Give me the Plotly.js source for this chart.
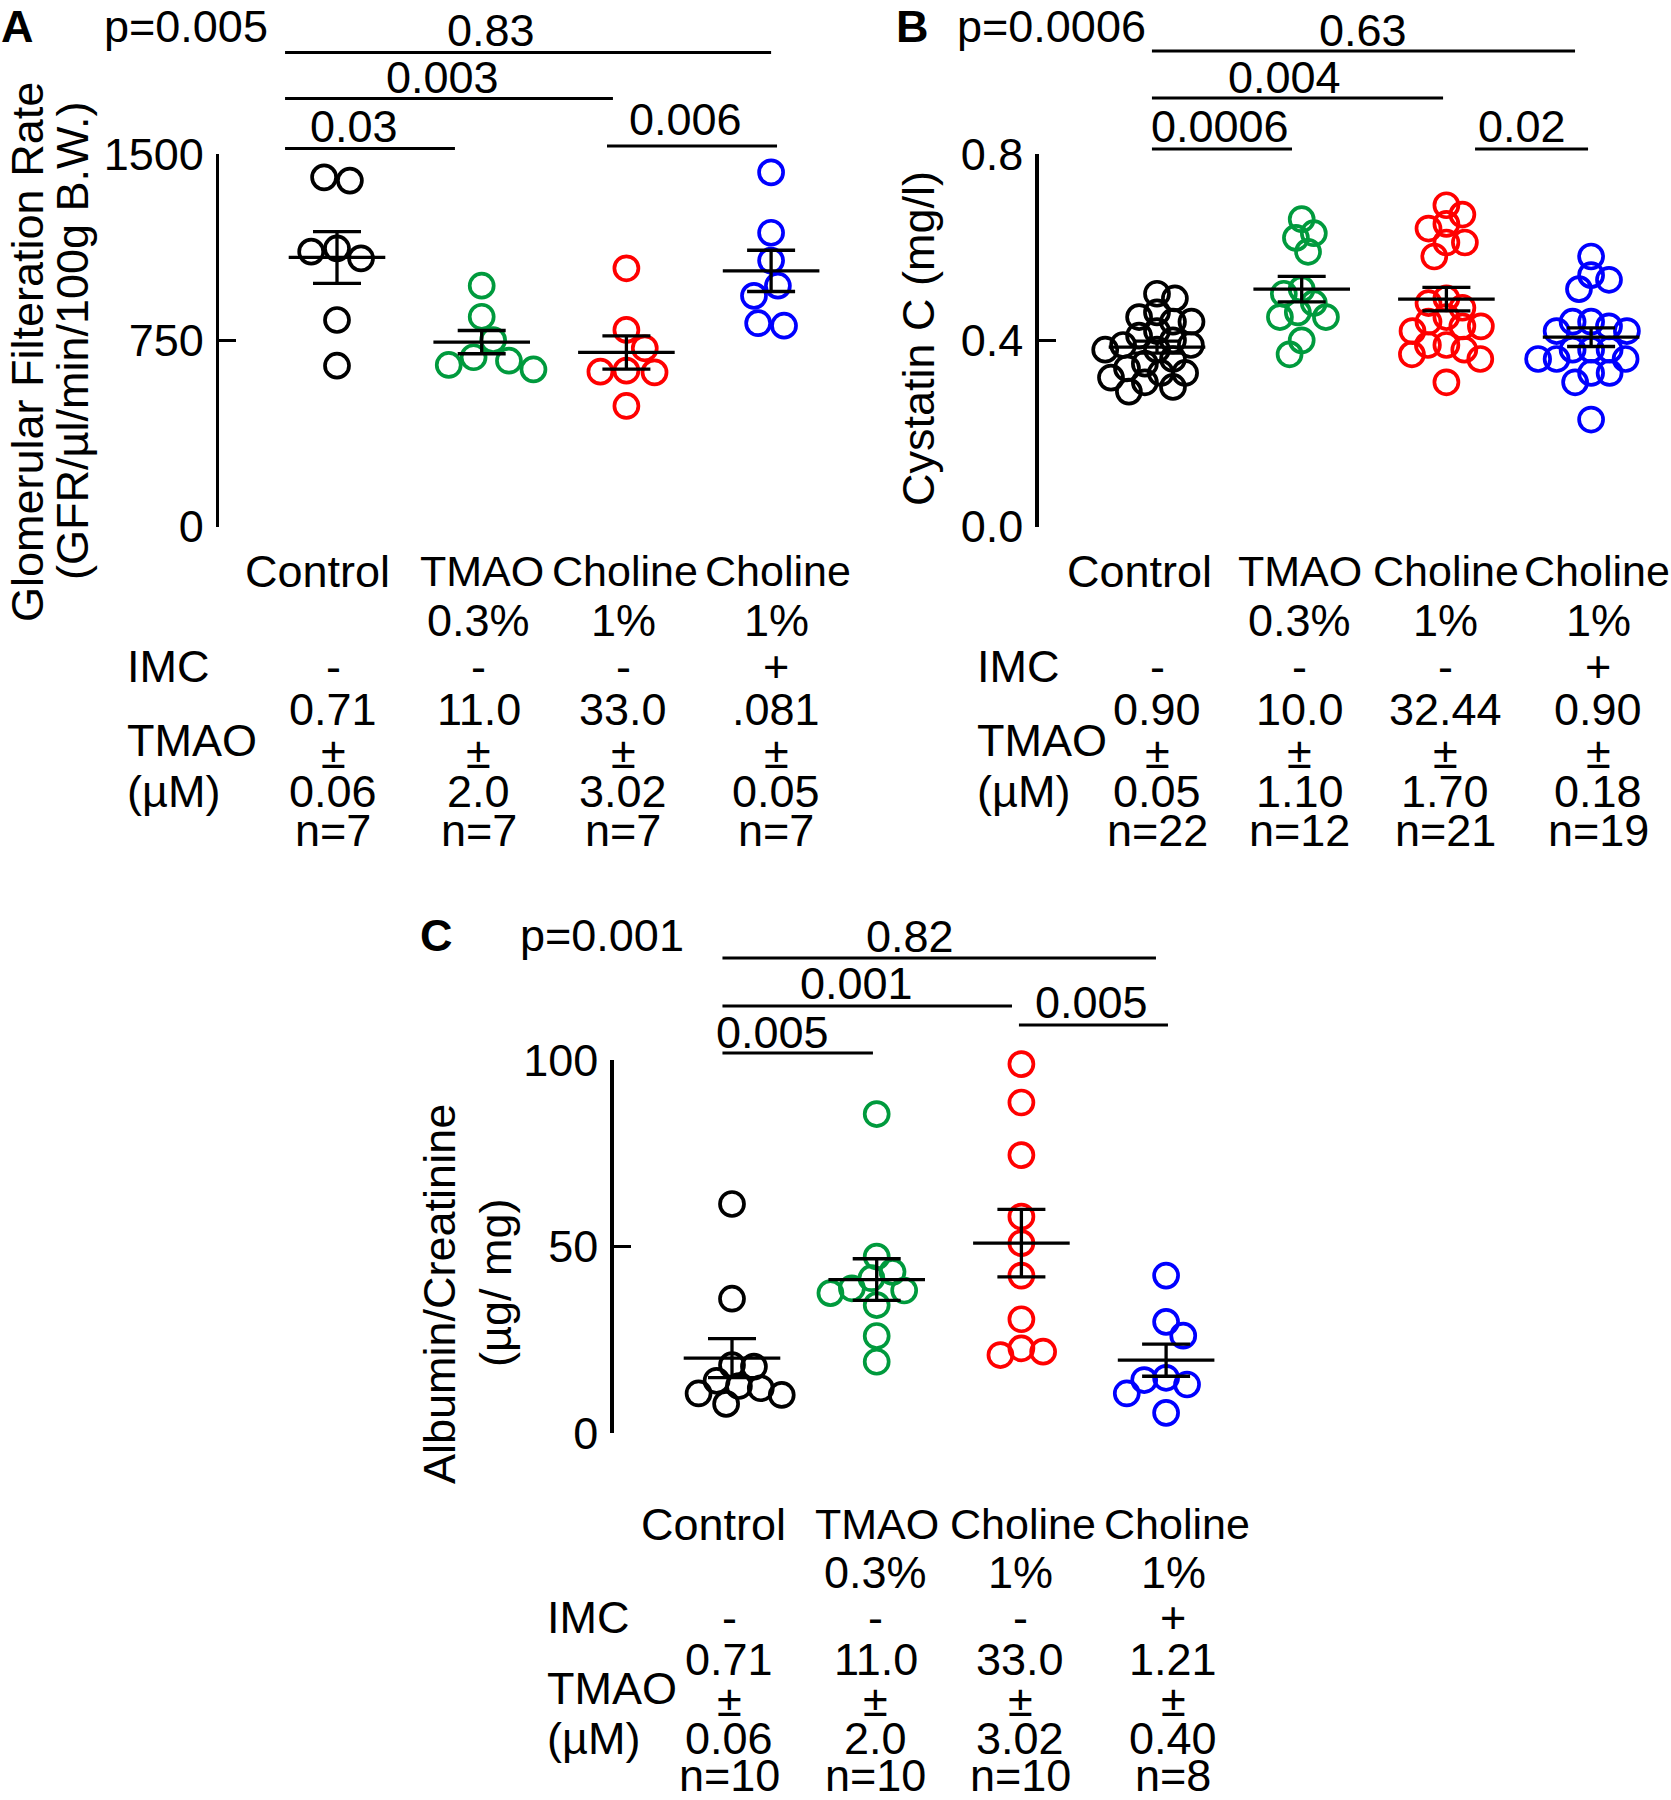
<!DOCTYPE html>
<html><head><meta charset="utf-8">
<script src="https://cdn.plot.ly/plotly-3.0.1.min.js"></script>
<style>html,body{margin:0;padding:0;background:#fff}</style>
</head><body><div id="chart" style="width:1671px;height:1800px"></div>
<script>
// ================= DATA =================
const groupNames = ['Control', 'TMAO', 'Choline', 'Choline'];
const groupDoses = ['', '0.3%', '1%', '1%'];
const imcRow = ['-', '-', '-', '+'];

// Panel A : GFR (µl/min/100g B.W.)
const gfrControl    = [1406, 1393, 1120, 1080, 1107, 832, 648];
const gfrTMAO       = [970, 845, 751, 682, 668, 651, 633];
const gfrCholine    = [1040, 792, 718, 624, 621, 628, 486];
const gfrCholineIMC = [1426, 1183, 1071, 970, 929, 809, 819];
const gfrTicks      = [0, 750, 1500];
const gfrTickText   = ['0', '750', '1500'];
const tmaoA_mean    = ['0.71', '11.0', '33.0', '.081'];
const tmaoA_sem     = ['0.06', '2.0', '3.02', '0.05'];
const nA            = ['n=7', 'n=7', 'n=7', 'n=7'];
const pA            = 'p=0.005';
const sigA          = ['0.83', '0.003', '0.03', '0.006'];

// Panel B : Cystatin C (mg/l)
const cysControl    = [0.50, 0.49, 0.46, 0.45, 0.44, 0.44, 0.42, 0.41, 0.40, 0.39, 0.39,
                       0.38, 0.38, 0.36, 0.35, 0.34, 0.33, 0.33, 0.32, 0.31, 0.30, 0.29];
const cysTMAO       = [0.66, 0.63, 0.62, 0.59, 0.51, 0.50, 0.48, 0.46, 0.45, 0.45, 0.40, 0.37];
const cysCholine    = [0.69, 0.67, 0.65, 0.64, 0.61, 0.61, 0.58, 0.49, 0.48, 0.47, 0.45,
                       0.44, 0.43, 0.43, 0.42, 0.39, 0.39, 0.38, 0.37, 0.36, 0.31];
const cysCholineIMC = [0.58, 0.54, 0.53, 0.51, 0.44, 0.44, 0.43, 0.42, 0.42, 0.38, 0.38,
                       0.38, 0.36, 0.36, 0.36, 0.33, 0.33, 0.31, 0.23];
const cysTicks      = [0, 0.4, 0.8];
const cysTickText   = ['0.0', '0.4', '0.8'];
const tmaoB_mean    = ['0.90', '10.0', '32.44', '0.90'];
const tmaoB_sem     = ['0.05', '1.10', '1.70', '0.18'];
const nB            = ['n=22', 'n=12', 'n=21', 'n=19'];
const pB            = 'p=0.0006';
const sigB          = ['0.63', '0.004', '0.0006', '0.02'];

// Panel C : Albumin/Creatinine (µg/mg)
const acrControl    = [61.4, 36.0, 18.2, 17.8, 14.0, 12.6, 12.0, 10.6, 10.2, 7.8];
const acrTMAO       = [85.5, 47.3, 43.2, 41.5, 38.8, 38.2, 37.5, 34.3, 26.0, 19.1];
const acrCholine    = [98.9, 88.6, 74.5, 58.0, 50.9, 42.2, 30.5, 22.7, 20.9, 21.8];
const acrCholineIMC = [42.2, 29.8, 26.1, 14.8, 14.2, 13.0, 10.6, 5.4];
const acrTicks      = [0, 50, 100];
const acrTickText   = ['0', '50', '100'];
const tmaoC_mean    = ['0.71', '11.0', '33.0', '1.21'];
const tmaoC_sem     = ['0.06', '2.0', '3.02', '0.40'];
const nC            = ['n=10', 'n=10', 'n=10', 'n=8'];
const pC            = 'p=0.001';
const sigC          = ['0.82', '0.001', '0.005', '0.005'];

// ================= STYLE / GEOMETRY =================
const W = 1671, H = 1800;
const FONT = 'Liberation Sans, Arial, Helvetica, sans-serif';
const FS = 45;
const NAME_FS = [45, 43, 43, 43];
const COLORS = ['#000000', '#009a3d', '#ff0000', '#0000ff'];
const SP = 144.7;     // px between groups
const LW = 3.3;

const panels = [
  { key: 'A', ax: '', series: [gfrControl, gfrTMAO, gfrCholine, gfrCholineIMC], ymax: 1500,
    ticks: gfrTicks, tickText: gfrTickText, tm: tmaoA_mean, ts: tmaoA_sem, n: nA, p: pA, sig: sigA,
    axisPx: 217.5, g0: 337, xRight: 845, yTop: 154, yBot: 526.7, swarmD: 26,
    letterX: 0, letterY: 26, pX: 103, pY: 26,
    sigGeom: [[-0.359, 3.0, 52.5, 1.064, 30], [-0.359, 1.907, 98.5, 0.726, 77],
              [-0.359, 0.815, 148.5, 0.117, 126], [1.866, 3.041, 146, 2.405, 119]],
    nameShift: [-20, 0, -1, 7], valShift: [-4, -3, -3, 5],
    rows: { name: 571, pct: 620, imc: 666, v1: 710, lbl: 740, pm: 752, v2: 792, n: 830 }, leftX: 126,
    titles: [['Glomerular Filteration Rate', 27, 352], ['(GFR/\u00b5l/min/100g B.W.)', 73, 341]] },
  { key: 'B', ax: '2', series: [cysControl, cysTMAO, cysCholine, cysCholineIMC], ymax: 0.8,
    ticks: cysTicks, tickText: cysTickText, tm: tmaoB_mean, ts: tmaoB_sem, n: nB, p: pB, sig: sigB,
    axisPx: 1037, g0: 1157, xRight: 1671, yTop: 154, yBot: 526.7, swarmD: 18.5,
    letterX: 895, letterY: 26, pX: 956, pY: 26,
    sigGeom: [[-0.035, 2.889, 51, 1.424, 30], [-0.035, 1.977, 98, 0.878, 77],
              [-0.035, 0.933, 149, 0.435, 126], [2.198, 2.979, 149, 2.522, 126]],
    nameShift: [-18, -2, 0, 6], valShift: [0, -2, -1, 7],
    rows: { name: 571, pct: 620, imc: 666, v1: 710, lbl: 740, pm: 752, v2: 792, n: 830 }, leftX: 976,
    titles: [['Cystatin C (mg/l)', 918, 339]] },
  { key: 'C', ax: '3', series: [acrControl, acrTMAO, acrCholine, acrCholineIMC], ymax: 100,
    ticks: acrTicks, tickText: acrTickText, tm: tmaoC_mean, ts: tmaoC_sem, n: nC, p: pC, sig: sigC,
    axisPx: 612, g0: 732, xRight: 1260, yTop: 1060, yBot: 1433, swarmD: 22,
    letterX: 419, letterY: 935, pX: 519, pY: 935,
    sigGeom: [[-0.066, 2.930, 958, 1.230, 936], [-0.066, 1.935, 1006, 0.857, 984],
              [-0.066, 0.974, 1053, 0.283, 1032], [1.983, 3.013, 1025, 2.481, 1002]],
    nameShift: [-19, 0, 2, 11], valShift: [-3, -1, -1, 7],
    rows: { name: 1524, pct: 1572, imc: 1617, v1: 1659, lbl: 1688, pm: 1700, v2: 1738, n: 1775 }, leftX: 546,
    titles: [['Albumin/Creatinine', 439, 1294], ['(\u00b5g/ mg)', 495, 1283]] }
];

// ================= HELPERS =================
const fx = px => px / W;
const fy = px => 1 - px / H;

// simple beeswarm: offsets (px) so that markers keep a minimum distance D
function swarm(vals, pxPerUnit, D) {
  const order = vals.map((v, i) => i).sort((a, b) => vals[b] - vals[a]);
  const placed = [];
  const out = new Array(vals.length).fill(0);
  for (const i of order) {
    const y = vals[i] * pxPerUnit;
    const cands = [0];
    for (const p of placed) {
      const dy = Math.abs(p.y - y);
      if (dy < D) { const dx = Math.sqrt(D * D - dy * dy); cands.push(p.x + dx, p.x - dx); }
    }
    const sum = placed.reduce((s, p) => s + p.x, 0);
    cands.sort((a, b) => (Math.abs(a) - Math.abs(b)) || (Math.abs(sum + a) - Math.abs(sum + b)));
    const best = cands.find(c => placed.every(p => (p.x - c) ** 2 + (p.y - y) ** 2 >= D * D - 1e-6));
    out[i] = best;
    placed.push({ x: best, y: y });
  }
  // centre tight rows that ended up one-sided
  const rows = [];
  order.forEach(i => {
    const y = vals[i] * pxPerUnit;
    const r = rows.find(rr => Math.abs(rr.y - y) < 5);
    if (r) r.idx.push(i); else rows.push({ y: y, idx: [i] });
  });
  rows.forEach(r => {
    if (r.idx.length < 2) return;
    const m = r.idx.reduce((s, i) => s + out[i], 0) / r.idx.length;
    const others = vals.map((v, i) => i).filter(i => !r.idx.includes(i));
    const ok = r.idx.every(i => others.every(j => (out[i] - m - out[j]) ** 2 + ((vals[i] - vals[j]) * pxPerUnit) ** 2 >= D * D - 1e-6));
    if (ok) r.idx.forEach(i => { out[i] -= m; });
  });
  return out;
}
function meanOf(a) { return a.reduce((s, v) => s + v, 0) / a.length; }
function semOf(a) {
  const m = meanOf(a);
  const sd = Math.sqrt(a.reduce((s, v) => s + (v - m) ** 2, 0) / (a.length - 1));
  return sd / Math.sqrt(a.length);
}

const traces = [];
const layout = {
  width: W, height: H, margin: { l: 0, r: 0, t: 0, b: 0 },
  paper_bgcolor: '#ffffff', plot_bgcolor: 'rgba(0,0,0,0)', showlegend: false,
  font: { family: FONT, size: FS, color: '#000000' },
  annotations: [], shapes: []
};

function ann(o, size) {
  layout.annotations.push(Object.assign({
    showarrow: false, font: { family: FONT, size: size || FS, color: '#000000' },
    xanchor: 'center', yanchor: 'middle', borderpad: 0
  }, o));
}

panels.forEach(P => {
  const xa = 'x' + P.ax, ya = 'y' + P.ax;
  const domL = P.axisPx + LW / 2;
  layout['xaxis' + P.ax] = {
    domain: [fx(domL), fx(P.xRight)],
    range: [(domL - P.g0) / SP, (P.xRight - P.g0) / SP],
    visible: false, anchor: ya, fixedrange: true
  };
  layout['yaxis' + P.ax] = {
    domain: [fy(P.yBot), fy(P.yTop)], range: [0, P.ymax], anchor: xa,
    tickmode: 'array', tickvals: P.ticks, ticktext: P.tickText,
    ticks: 'inside', ticklen: 17, tickwidth: LW, tickcolor: '#000',
    showline: true, linewidth: LW, linecolor: '#000',
    showgrid: false, zeroline: false, ticklabelstandoff: 3,
    tickfont: { family: FONT, size: FS, color: '#000' }, fixedrange: true
  };
  const pxPerUnit = (P.yBot - P.yTop) / P.ymax;
  const means = [], sems = [];
  P.series.forEach((vals, g) => {
    const offs = swarm(vals, pxPerUnit, P.swarmD);
    traces.push({
      type: 'scatter', mode: 'markers', xaxis: xa, yaxis: ya, cliponaxis: false,
      x: offs.map(o => g + o / SP), y: vals, hoverinfo: 'skip',
      marker: { symbol: 'circle-open', size: 24, color: COLORS[g], line: { width: 3.7, color: COLORS[g] } }
    });
    means.push(meanOf(vals)); sems.push(semOf(vals));
  });
  traces.push({
    type: 'scatter', mode: 'markers', xaxis: xa, yaxis: ya, cliponaxis: false,
    x: [0, 1, 2, 3], y: means, hoverinfo: 'skip',
    marker: { symbol: 'line-ew', size: 69, color: '#000', line: { width: LW, color: '#000' } },
    error_y: { type: 'data', array: sems, visible: true, color: '#000', thickness: LW, width: 24 }
  });

  // significance bars
  P.sigGeom.forEach((s, k) => {
    layout.shapes.push({ type: 'line', xref: xa, yref: 'paper', x0: s[0], x1: s[1], y0: fy(s[2]), y1: fy(s[2]),
      line: { color: '#000', width: 3 } });
    ann({ xref: xa, yref: 'paper', x: s[3], y: fy(s[4]), text: P.sig[k] });
  });
  // panel letter & overall p
  ann({ xref: 'paper', yref: 'paper', x: fx(P.letterX), y: fy(P.letterY), xanchor: 'left', text: '<b>' + P.key + '</b>' });
  ann({ xref: 'paper', yref: 'paper', x: fx(P.pX), y: fy(P.pY), xanchor: 'left', text: P.p });
  // axis titles
  P.titles.forEach(t => ann({ xref: 'paper', yref: 'paper', x: fx(t[1]), y: fy(t[2]), textangle: -90, text: t[0] }));
  // group label table
  const R = P.rows;
  for (let g = 0; g < 4; g++) {
    ann({ xref: xa, yref: 'paper', x: g, xshift: P.nameShift[g], y: fy(R.name), text: groupNames[g] }, NAME_FS[g]);
    if (groupDoses[g]) ann({ xref: xa, yref: 'paper', x: g, xshift: P.valShift[g], y: fy(R.pct), text: groupDoses[g] });
    ann({ xref: xa, yref: 'paper', x: g, xshift: P.valShift[g], y: fy(R.imc), text: imcRow[g] });
    ann({ xref: xa, yref: 'paper', x: g, xshift: P.valShift[g], y: fy(R.v1), text: P.tm[g] });
    ann({ xref: xa, yref: 'paper', x: g, xshift: P.valShift[g], y: fy(R.pm), text: '\u00b1' });
    ann({ xref: xa, yref: 'paper', x: g, xshift: P.valShift[g], y: fy(R.v2), text: P.ts[g] });
    ann({ xref: xa, yref: 'paper', x: g, xshift: P.valShift[g], y: fy(R.n), text: P.n[g] });
  }
  ann({ xref: 'paper', yref: 'paper', x: fx(P.leftX), y: fy(R.imc), xanchor: 'left', text: 'IMC' });
  ann({ xref: 'paper', yref: 'paper', x: fx(P.leftX), y: fy(R.lbl), xanchor: 'left', text: 'TMAO' });
  ann({ xref: 'paper', yref: 'paper', x: fx(P.leftX), y: fy(R.v2), xanchor: 'left', text: '(\u00b5M)' });
});

Plotly.newPlot('chart', traces, layout, { staticPlot: true, displayModeBar: false });
</script>
</body></html>
